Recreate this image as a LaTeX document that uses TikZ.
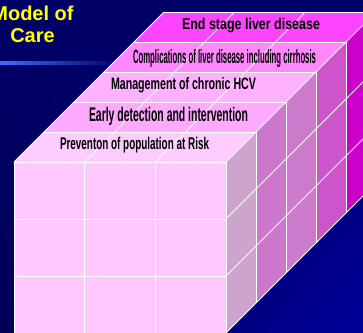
\documentclass[tikz,border=0pt]{standalone}
\usepackage{fontspec}
\setmainfont{Liberation Sans}
\usepackage{graphicx}
\usetikzlibrary{shadings}
\definecolor{bgA}{HTML}{000066}
\definecolor{bgB}{HTML}{000099}
\definecolor{bgC}{HTML}{000058}
\definecolor{lineblue}{HTML}{3A70FF}
\definecolor{titleyellow}{HTML}{FFFF00}
\definecolor{topA}{HTML}{FFCCFF}
\definecolor{topB}{HTML}{FFAAFF}
\definecolor{topC}{HTML}{FFB0FF}
\definecolor{topD}{HTML}{FF88FF}
\definecolor{topE}{HTML}{FF44FF}
\definecolor{sideA}{HTML}{CCA4CC}
\definecolor{sideB}{HTML}{CC77CC}
\definecolor{sideC}{HTML}{CC7ACC}
\definecolor{sideD}{HTML}{CC55CC}
\definecolor{sideE}{HTML}{CC00CC}
\definecolor{frontc}{HTML}{FFC8FF}
\tikzset{
  gridline/.style={draw=white, line width=0.8pt},
  titletext/.style={text=titleyellow, font=\fontsize{20}{22}\selectfont\bfseries, inner sep=0pt, anchor=base},
  layertext/.style={text=black, font=\bfseries, inner sep=0pt, anchor=base}
}
\begin{document}
\begin{tikzpicture}[x=1pt,y=-1pt]
\useasboundingbox (0,0) rectangle (363,332);
\clip (0,0) rectangle (363,332);
\shade[upper left=bgA, upper right=bgA, lower left=bgC, lower right=bgB] (0,0) rectangle (363,332);
\shade[left color=lineblue, right color=bgA] (0,61.8) rectangle (120,64.2);
% title
\node[titletext] (t1) at (32.5,20.5) {Model of};
\node[titletext] (t2) at (32.5,42) {Care};
% layers
\foreach \k/\tc/\sc in {0/topA/sideA,1/topB/sideB,2/topC/sideC,3/topD/sideD,4/topE/sideE}{
  \fill[\tc] ({14+30*\k},{162-30*\k}) -- ({226+30*\k},{162-30*\k}) -- ({256+30*\k},{132-30*\k}) -- ({44+30*\k},{132-30*\k}) -- cycle;
  \fill[\sc] ({226+30*\k},{162-30*\k}) -- ({256+30*\k},{132-30*\k}) -- ({256+30*\k},{303-30*\k}) -- ({226+30*\k},{333-30*\k}) -- cycle;
}
\fill[frontc] (14,162) rectangle (226,333);
% front grid
\draw[gridline] (14,162) rectangle (226,333);
\foreach \x in {84.67,155.33}{\draw[gridline] (\x,162) -- (\x,333);}
\foreach \y in {219,276}{\draw[gridline] (14,\y) -- (226,\y);}
% top grid
\foreach \x in {14,84.67,155.33,226}{\draw[gridline] (\x,162) -- ({\x+150},12);}
\foreach \k in {1,...,5}{\draw[gridline] ({14+30*\k},{162-30*\k}) -- ({226+30*\k},{162-30*\k});}
% right grid
\foreach \k in {1,...,5}{\draw[gridline] ({226+30*\k},{162-30*\k}) -- ({226+30*\k},{333-30*\k});}
\foreach \y in {219,276,333}{\draw[gridline] (226,\y) -- (376,{\y-150});}
% layer labels
\node[layertext] (l1) at (134.5,149) {\resizebox{149pt}{12.3pt}{Preventon of population at Risk}};
\node[layertext] (l2) at (168.5,121.7) {\resizebox{159pt}{14.3pt}{Early detection and intervention}};
\node[layertext] (l3) at (183.5,89.3) {\resizebox{145pt}{12pt}{Management of chronic HCV}};
\node[layertext] (l4) at (224.5,63.3) {\resizebox{183pt}{14pt}{Complications of liver disease including cirrhosis}};
\node[layertext] (l5) at (251,29.5) {\resizebox{138pt}{11.3pt}{End stage liver disease}};
\end{tikzpicture}
\end{document}
